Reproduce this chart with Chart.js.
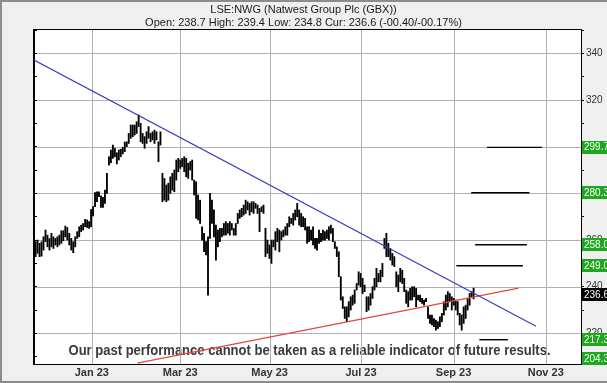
<!DOCTYPE html>
<html>
<head>
<meta charset="utf-8">
<script src="https://cdn.jsdelivr.net/npm/chart.js@4/dist/chart.umd.min.js"></script>
<style>
html,body{margin:0;padding:0;background:#efefef;}
canvas{display:block;}
</style>
</head>
<body>
<canvas id="c" width="607" height="383"></canvas>
<script>
// ---- data ----
const titleText = 'LSE:NWG (Natwest Group Plc (GBX))';
const subtitleText = 'Open: 238.7 High: 239.4 Low: 234.8 Cur: 236.6 (-00.40/-00.17%)';
const disclaimer = 'Our past performance cannot be taken as a reliable indicator of future results.';

// daily highs / lows, one bar per trading session (x = session index)
const highs = [
259.3,260.0,258.6,259.3,261.4,264.3,262.1,260.7,262.9,261.4,260.7,261.4,262.1,264.0,264.0,266.0,265.4,262.9,260.7,259.3,261.4,263.6,265.7,266.4,267.1,268.9,268.6,267.9,273.1,274.3,280.3,280.7,280.7,278.9,278.3,281.4,288.6,295.7,298.6,300.7,299.3,297.4,298.6,298.9,299.7,302.0,302.1,305.7,
309.3,309.3,309.3,310.7,313.6,310.0,305.7,304.3,306.4,308.6,305.7,306.4,307.1,306.4,302.1,306.4,288.6,286.4,283.6,284.3,287.1,288.6,290.0,294.3,295.0,294.3,295.0,295.7,295.0,292.9,293.6,294.3,285.7,285.0,279.3,277.1,265.7,262.9,259.3,261.4,280.0,277.1,272.9,266.4,264.3,265.0,265.0,
267.1,267.9,267.1,267.9,267.1,265.0,267.1,271.4,272.9,273.6,275.0,277.1,276.4,275.7,276.4,276.4,275.7,275.0,273.6,274.3,275.0,265.0,260.0,257.9,260.0,260.0,263.6,265.0,264.3,263.6,264.3,265.7,267.1,270.0,269.3,271.4,272.9,275.7,272.9,271.4,270.0,269.3,265.7,265.7,264.3,265.7,260.7,260.7,
264.3,262.9,264.3,263.6,264.3,265.7,266.4,265.0,259.3,257.1,255.0,244.3,235.7,231.4,231.4,233.6,235.7,236.4,238.6,241.4,246.4,245.7,243.6,240.7,235.7,235.7,237.1,240.0,243.6,247.9,245.7,247.1,250.0,260.7,262.9,258.6,256.4,254.3,252.9,246.4,245.0,247.9,247.1,243.6,238.6,237.9,
239.3,240.0,240.0,239.3,236.4,236.4,235.0,234.3,235.0,231.4,227.9,227.9,226.4,225.7,225.0,227.1,228.6,233.6,236.4,237.9,237.1,235.7,235.0,234.3,233.6,228.6,227.9,231.4,232.1,235.0,237.1,237.9,239.4
];
const lows = [
252.9,254.3,252.9,253.1,255.7,259.3,257.1,255.7,257.1,256.4,257.9,257.1,257.9,258.6,259.7,261.4,260.0,257.9,255.7,254.6,257.1,260.7,261.4,263.6,264.3,265.7,265.4,265.0,265.7,270.3,274.3,276.4,278.6,274.0,274.0,275.7,280.0,292.1,293.1,295.0,295.7,292.6,294.3,295.7,296.9,297.9,300.0,301.4,
303.6,304.3,305.0,305.7,308.6,302.1,301.4,299.3,301.4,303.6,302.1,302.9,301.4,302.9,293.6,300.7,276.4,277.1,276.4,277.1,280.0,281.4,280.7,285.7,289.3,290.7,291.4,289.3,287.1,286.4,290.0,285.7,279.3,269.3,268.6,267.1,260.0,255.0,253.6,236.4,260.7,267.1,261.4,251.4,257.1,259.3,261.4,
262.1,262.1,262.9,262.1,264.3,262.1,262.1,267.1,269.3,270.0,270.7,271.4,272.9,270.7,272.1,271.4,273.6,271.4,263.6,272.1,271.4,252.9,254.3,252.1,250.0,257.1,255.7,259.3,255.0,260.0,261.4,262.1,262.1,265.7,267.1,266.4,268.6,270.0,266.4,265.7,265.7,264.3,258.6,259.3,260.0,257.9,256.4,255.7,
258.6,259.3,260.0,260.0,260.7,260.0,262.9,259.3,256.4,252.9,244.3,234.3,230.7,226.4,225.0,227.1,230.0,232.1,232.9,238.6,240.7,240.0,237.1,237.9,229.3,230.0,232.1,235.0,238.6,240.0,242.1,242.1,244.3,256.4,252.9,252.9,251.4,249.3,248.6,240.0,237.9,242.1,241.4,237.9,232.9,231.4,
234.3,234.3,235.7,231.4,234.3,233.6,232.9,232.1,233.6,226.4,224.3,223.6,222.9,221.4,222.1,222.9,225.0,227.9,230.0,231.4,233.6,230.0,232.1,230.0,227.9,223.6,221.4,224.3,226.4,230.0,232.1,235.7,234.8
];

// x axis (session index) range and month ticks
const xRange = [-0.8, 275.2];
const monthPos = [28.35, 73.0, 118.1, 164.2, 210.9, 257.4];
const monthLabels = ['Jan 23', 'Mar 23', 'May 23', 'Jul 23', 'Sep 23', 'Nov 23'];

// y axis range and gridline levels
const yRange = [206.9, 350];
const yGridLevels = [220, 240, 260, 280, 300, 320, 340];

// trend lines: [x0, x1] and [y0, y1]
const blueX = [-0.8, 252.5];
const blueY = [337.1, 223.1];
const redX = [51.3, 243.7];
const redY = [207.3, 239.4];

// target levels, their drawn spans and the right-hand labels
const targetLevels = [299.7, 280.3, 258.0, 249.0, 217.3];
const targetStart = [227.8, 219.8, 221.8, 212.3, 223.9];
const targetEnd = [255.5, 249.2, 247.9, 245.9, 238.3];
const labelLevels = [299.7, 280.3, 258.0, 249.0, 236.6, 217.3, 204.3];
const currentPrice = 236.6;

// ---- chart ----
const barData = highs.map((h, i) => ({x: i, y: [lows[i], h]}));

const datasets = [];
datasets.push({
  type: 'line',
  data: [{x: blueX[0], y: blueY[0]}, {x: blueX[1], y: blueY[1]}],
  borderColor: '#3a3ac6', borderWidth: 1.2, pointRadius: 0, fill: false, order: 1
});
datasets.push({
  type: 'line',
  data: [{x: redX[0], y: redY[0]}, {x: redX[1], y: redY[1]}],
  borderColor: '#e2483c', borderWidth: 1.2, pointRadius: 0, fill: false, order: 1
});
targetLevels.forEach((lv, k) => {
  datasets.push({
    type: 'line',
    data: [{x: targetStart[k], y: lv}, {x: targetEnd[k], y: lv}],
    borderColor: '#000', borderWidth: 1.4, pointRadius: 0, fill: false, order: 2
  });
});
datasets.push({
  type: 'bar',
  data: barData,
  backgroundColor: '#000',
  borderWidth: 0,
  barThickness: 1.2,
  order: 3
});

const LABEL_FONT = '"Liberation Sans", Arial, sans-serif';
const GRID = '#b0b0b0';

const bgPlugin = {
  id: 'bg',
  beforeDraw(chart) {
    const {ctx, chartArea: a, width, height} = chart;
    const xs = chart.scales.x, ys = chart.scales.y;
    ctx.save();
    ctx.fillStyle = '#efefef';
    ctx.fillRect(0, 0, width, height);
    ctx.fillStyle = '#ffffff';
    ctx.fillRect(a.left, a.top, a.right - a.left, a.bottom - a.top);
    ctx.fillStyle = '#3a3a3a';
    ctx.font = 'bold 14px "Liberation Sans Narrow", ' + LABEL_FONT;
    ctx.textAlign = 'center';
    ctx.textBaseline = 'middle';
    ctx.fillText(disclaimer, 309.5, a.bottom - 13, 482);
    // grid lines positioned through the scales, drawn over the disclaimer
    ctx.fillStyle = GRID;
    monthPos.forEach(v => {
      const px = Math.round(xs.getPixelForValue(v));
      ctx.fillRect(px, a.top, 1, a.bottom - a.top);
    });
    yGridLevels.forEach(v => {
      const py = Math.round(ys.getPixelForValue(v));
      ctx.fillRect(a.left, py, a.right - a.left, 1);
    });
    ctx.restore();
  },
  afterDatasetsDraw(chart) {
    const {ctx, chartArea: a} = chart;
    ctx.save();
    ctx.strokeStyle = '#000';
    ctx.lineWidth = 1;
    ctx.strokeRect(Math.round(a.left) - 0.5, Math.round(a.top) - 0.5, Math.round(a.right - a.left) + 1, Math.round(a.bottom - a.top) + 1);
    ctx.restore();
  },
  afterDraw(chart) {
    const {ctx, chartArea: a, width, height} = chart;
    const ys = chart.scales.y;
    ctx.save();
    ctx.font = '10px ' + LABEL_FONT;
    ctx.textBaseline = 'middle';
    ctx.textAlign = 'left';
    labelLevels.forEach(v => {
      let y = ys.getPixelForValue(v);
      y = Math.min(Math.max(y, a.top + 6.5), a.bottom - 5.5);
      ctx.fillStyle = v === currentPrice ? '#000000' : '#1ea81e';
      ctx.fillRect(a.right + 1, Math.round(y - 6.5), 40, 13);
      ctx.fillStyle = '#ffffff';
      ctx.fillText(v.toFixed(1), a.right + 3, Math.round(y) + 0.5);
    });
    // outer frame
    ctx.fillStyle = '#8c8c8c';
    ctx.fillRect(0, 0, width, 2);
    ctx.fillRect(0, 0, 2, height);
    ctx.fillRect(0, height - 2, width, 2);
    ctx.restore();
  }
};

new Chart(document.getElementById('c'), {
  type: 'bar',
  data: {datasets},
  options: {
    responsive: false,
    animation: false,
    devicePixelRatio: 1,
    layout: {padding: {left: 0, right: 0, top: 0, bottom: 0}},
    plugins: {
      legend: {display: false},
      tooltip: {enabled: false},
      title: {
        display: true, text: titleText, color: '#1a1a1a',
        font: {family: LABEL_FONT, size: 11, weight: 'normal', lineHeight: 1},
        padding: {top: 4, bottom: 2}
      },
      subtitle: {
        display: true, text: subtitleText, color: '#1a1a1a',
        font: {family: LABEL_FONT, size: 11, weight: 'normal', lineHeight: 1},
        padding: {top: 0, bottom: 2}
      }
    },
    scales: {
      x: {
        type: 'linear', min: xRange[0], max: xRange[1], offset: false,
        afterBuildTicks: s => { s.ticks = monthPos.map(v => ({value: v})); },
        afterFit: s => { s.height = 19; },
        ticks: {
          autoSkip: false, maxRotation: 0, padding: 2, color: '#333',
          font: {family: '"Liberation Sans Narrow", ' + LABEL_FONT, size: 11, weight: 'bold'},
          callback: (v, i) => monthLabels[i]
        },
        grid: {display: true, color: 'rgba(0,0,0,0)', drawTicks: false, offset: false},
        border: {display: true, color: '#000'}
      },
      y: {
        type: 'linear', position: 'right', min: yRange[0], max: yRange[1],
        afterFit: s => { s.width = 26; },
        ticks: {
          stepSize: 10, includeBounds: false, padding: 2, color: '#333',
          font: {family: LABEL_FONT, size: 10},
          callback: v => (Math.round(v) % 20 === 0 ? String(Math.round(v)) : '')
        },
        grid: {drawOnChartArea: false, color: '#000', tickColor: '#000', tickLength: 3},
        border: {display: true, color: '#000'}
      },
      yl: {
        type: 'linear', position: 'left', min: yRange[0], max: yRange[1],
        afterFit: s => { s.width = 34; },
        ticks: {display: false, stepSize: 10, includeBounds: false},
        grid: {drawOnChartArea: false, tickColor: '#000', tickLength: -3},
        border: {display: true, color: '#000'}
      }
    }
  },
  plugins: [bgPlugin]
});
</script>
</body>
</html>
